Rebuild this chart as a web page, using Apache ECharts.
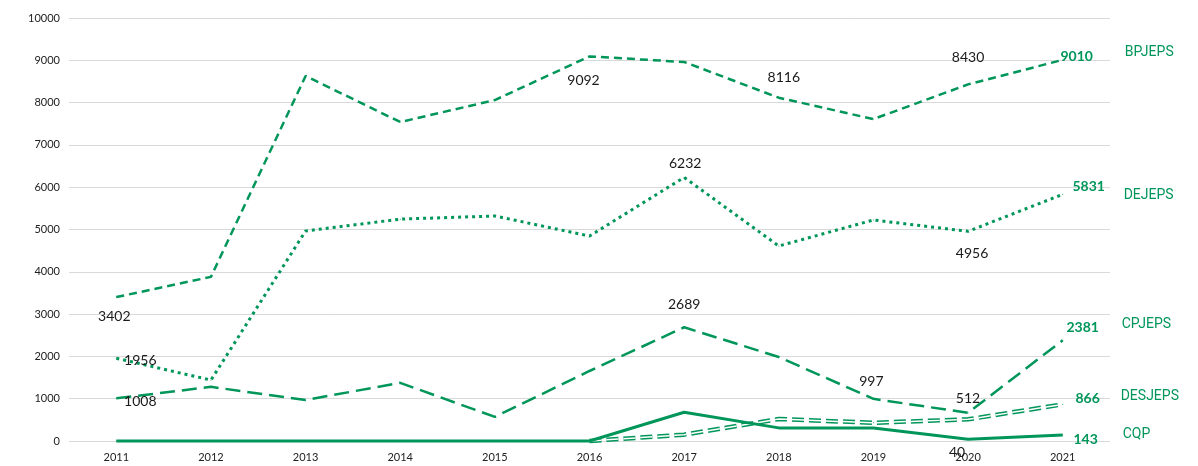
<!DOCTYPE html>
<html>
<head>
<meta charset="utf-8">
<script src="https://cdn.jsdelivr.net/npm/echarts@6/dist/echarts.min.js"></script>
<style>
  html, body { margin: 0; padding: 0; background: #fff; }
  #chart { width: 1198px; height: 466px; }
</style>
</head>
<body>
<div id="chart"></div>
<script>
const years = ['2011', '2012', '2013', '2014', '2015', '2016', '2017', '2018', '2019', '2020', '2021'];

const bpjeps  = [3402, 3880, 8630, 7540, 8060, 9092, 8960, 8116, 7610, 8430, 9010];
const dejeps  = [1956, 1440, 4965, 5245, 5320, 4845, 6232, 4610, 5225, 4956, 5831];
const cpjeps  = [1008, 1280, 970, 1375, 570, 1655, 2689, 1985, 997, 665, 2381];
const desjeps = [null, null, null, null, null, 0, 150, 520, 430, 512, 866];
const cqp     = [0, 0, 0, 0, 0, 0, 680, 310, 305, 40, 143];

const green = '#00965a';

// which points carry a value label, and where the text sits relative to the point
const labelSpots = {
  BPJEPS:  [[0, -2, 19], [5, -6, 24], [7, 5, -20], [9, 0, -27], [10, 14, -3, true]],
  DEJEPS:  [[0, 24, 2], [6, 1, -14], [9, 4, 22], [10, 26, -8, true]],
  CPJEPS:  [[0, 24, 3], [6, 0, -23], [8, -2, -17], [10, 20, -13, true]],
  DESJEPS: [[9, 0, -21], [10, 25, -6, true]],
  CQP:     [[9, -11, 13], [10, 23, 5, true]]
};
const nameOffsets = {
  BPJEPS: [54, -7], DEJEPS: [53, 1], CPJEPS: [51, -16], DESJEPS: [50, -8], CQP: [52, 0]
};

function withLabels(name, values) {
  const spots = labelSpots[name] || [];
  return values.map((v, i) => {
    const s = spots.find(p => p[0] === i);
    if (!s) return v;
    return {
      value: v,
      label: {
        show: true,
        position: 'inside',
        offset: [s[1], s[2]],
        fontFamily: 'Lato',
        fontSize: 14,
        fontWeight: s[3] ? 'bold' : 'normal',
        color: s[3] ? green : '#1a1a1a'
      }
    };
  });
}

function lineSeries(name, values, lineStyle, z) {
  return {
    name: name,
    type: 'line',
    data: withLabels(name, values),
    symbol: 'circle',
    symbolSize: 1,
    clip: false,
    itemStyle: { color: green },
    lineStyle: Object.assign({ color: green, width: 2.5 }, lineStyle),
    endLabel: {
      show: true,
      formatter: name,
      offset: nameOffsets[name],
      fontFamily: 'Roboto',
      fontSize: 14,
      color: green
    },
    z: z || 3
  };
}

const chart = echarts.init(document.getElementById('chart'));
chart.setOption({
  animation: false,
  grid: { left: 69, right: 88, top: 18, bottom: 25 },
  xAxis: {
    type: 'category',
    data: years,
    boundaryGap: true,
    axisLine: { show: false },
    axisTick: { show: false },
    axisLabel: { color: '#222', fontSize: 11, fontFamily: 'Lato', margin: 11 }
  },
  yAxis: {
    type: 'value',
    min: 0,
    max: 10000,
    interval: 1000,
    axisLine: { show: false },
    axisTick: { show: false },
    axisLabel: { color: '#222', fontSize: 11, fontFamily: 'Lato', margin: 9, formatter: v => String(v) },
    splitLine: { lineStyle: { color: '#d9d9d9', width: 1 } }
  },
  series: [
    lineSeries('BPJEPS', bpjeps, { type: [8, 5] }),
    lineSeries('DEJEPS', dejeps, { type: [3, 4], width: 3 }),
    lineSeries('CPJEPS', cpjeps, { type: [15, 7] }),
    lineSeries('DESJEPS', desjeps, { type: [12, 5], width: 4.5 }),
    // white core over the DESJEPS dashes to give the outlined look
    {
      name: 'DESJEPS core',
      type: 'line',
      data: desjeps,
      symbol: 'none',
      silent: true,
      clip: false,
      lineStyle: { color: '#fff', width: 1.5, type: [12, 5] },
      z: 4
    },
    lineSeries('CQP', cqp, { type: 'solid', width: 3 }, 5)
  ]
});
</script>
</body>
</html>
